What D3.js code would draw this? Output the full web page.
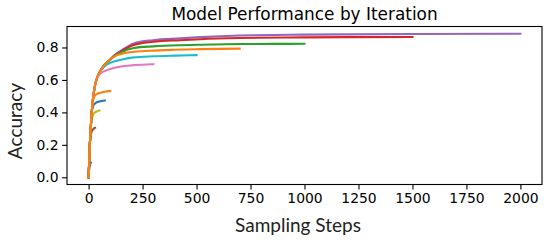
<!DOCTYPE html>
<html>
<head>
<meta charset="utf-8">
<script src="https://cdn.jsdelivr.net/npm/d3@7"></script>
<style>
  html, body { margin: 0; padding: 0; background: #fff; }
  svg { display: block; }
</style>
</head>
<body>
<svg id="chart" width="549" height="243"></svg>
<script>
// ---- data ----
const seriesNames = ["T=2000", "T=1500", "T=1000", "T=500", "T=300", "T=10", "T=30", "T=50", "T=75", "T=100", "T=700"];
const seriesColors = ["#9467bd", "#d62728", "#2ca02c", "#17becf", "#e377c2", "#1f77b4", "#8c564b", "#bcbd22", "#1f77b4", "#ff7f0e", "#ff7f0e"];

const steps2000 = [0, 2, 4, 6, 9, 12, 15, 20, 25, 32, 40, 50, 75, 100, 120, 150, 209, 300, 424, 517, 700, 1000, 1200, 1500, 2000];
const acc2000   = [0, 0.07, 0.15, 0.21, 0.28, 0.35, 0.41, 0.48, 0.53, 0.58, 0.615, 0.645, 0.695, 0.725, 0.752, 0.78, 0.825, 0.845, 0.856, 0.864, 0.874, 0.879, 0.881, 0.883, 0.885];

const steps1500 = [0, 2, 4, 6, 9, 12, 15, 20, 25, 32, 40, 50, 75, 100, 120, 150, 209, 300, 424, 517, 700, 1000, 1200, 1500];
const acc1500   = [0, 0.07, 0.15, 0.21, 0.28, 0.35, 0.41, 0.48, 0.53, 0.58, 0.615, 0.645, 0.695, 0.725, 0.75, 0.775, 0.815, 0.835, 0.845, 0.851, 0.858, 0.862, 0.864, 0.865];

const steps1000 = [0, 2, 4, 6, 9, 12, 15, 20, 25, 32, 40, 50, 75, 100, 120, 150, 209, 300, 424, 517, 700, 850, 1000];
const acc1000   = [0, 0.07, 0.15, 0.21, 0.28, 0.35, 0.41, 0.48, 0.53, 0.58, 0.615, 0.645, 0.695, 0.725, 0.748, 0.77, 0.797, 0.807, 0.814, 0.817, 0.821, 0.822, 0.823];

const steps700 = [0, 2, 4, 6, 9, 12, 15, 20, 25, 32, 40, 50, 75, 100, 120, 150, 200, 286, 400, 517, 700];
const acc700   = [0, 0.07, 0.15, 0.21, 0.28, 0.35, 0.41, 0.48, 0.53, 0.58, 0.615, 0.645, 0.695, 0.725, 0.745, 0.76, 0.772, 0.78, 0.786, 0.79, 0.793];

const steps500 = [0, 2, 4, 6, 9, 12, 15, 20, 25, 32, 40, 50, 75, 100, 150, 209, 300, 400, 500];
const acc500   = [0, 0.07, 0.15, 0.21, 0.28, 0.35, 0.41, 0.48, 0.53, 0.58, 0.615, 0.645, 0.685, 0.705, 0.725, 0.739, 0.746, 0.75, 0.753];

const steps300 = [0, 2, 4, 6, 9, 12, 15, 20, 25, 32, 40, 50, 75, 100, 150, 200, 250, 300];
const acc300   = [0, 0.07, 0.15, 0.21, 0.28, 0.35, 0.41, 0.48, 0.53, 0.58, 0.612, 0.635, 0.655, 0.668, 0.683, 0.69, 0.694, 0.697];

const steps100 = [0, 2, 4, 6, 9, 12, 15, 20, 25, 35, 50, 75, 100];
const acc100   = [0, 0.07, 0.15, 0.21, 0.28, 0.35, 0.41, 0.465, 0.495, 0.51, 0.52, 0.527, 0.531];

const steps75 = [0, 2, 4, 6, 9, 12, 15, 20, 30, 45, 60, 75];
const acc75   = [0, 0.07, 0.15, 0.21, 0.28, 0.35, 0.40, 0.435, 0.455, 0.465, 0.47, 0.473];

const steps50 = [0, 2, 4, 6, 9, 12, 16, 22, 30, 40, 50];
const acc50   = [0, 0.07, 0.15, 0.21, 0.28, 0.33, 0.365, 0.39, 0.40, 0.407, 0.412];

const steps30 = [0, 2, 4, 6, 9, 12, 18, 24, 30];
const acc30   = [0, 0.07, 0.15, 0.21, 0.25, 0.27, 0.29, 0.30, 0.305];

const steps10 = [0, 2, 4, 7, 10];
const acc10   = [0, 0.04, 0.06, 0.08, 0.09];

const xTicks = [0, 250, 500, 750, 1000, 1250, 1500, 1750, 2000];
const yTicks = [0.0, 0.2, 0.4, 0.6, 0.8];

const titleText = "Model Performance by Iteration";
const xLabel = "Sampling Steps";
const yLabel = "Accuracy";

// ---- build series table ----
const seriesSteps = [steps2000, steps1500, steps1000, steps500, steps300, steps10, steps30, steps50, steps75, steps100, steps700];
const seriesAcc   = [acc2000, acc1500, acc1000, acc500, acc300, acc10, acc30, acc50, acc75, acc100, acc700];
const series = seriesNames.map((name, i) => ({
  name, color: seriesColors[i],
  points: seriesSteps[i].map((s, j) => ({ step: s, acc: seriesAcc[i][j] }))
}));

// ---- layout ----
const svg = d3.select("#chart");
const L = 67, R = 542, T = 26.5, B = 184.5;

const x = d3.scaleLinear().domain([-100, 2100]).range([L, R]);
const y = d3.scaleLinear().domain([-0.0443, 0.9293]).range([B, T]);

const line = d3.line()
  .x(d => x(d.step))
  .y(d => y(d.acc))
  .curve(d3.curveMonotoneX);

const plot = svg.append("g");
plot.append("clipPath").attr("id", "clip")
  .append("rect").attr("x", L).attr("y", T).attr("width", R - L).attr("height", B - T);

plot.append("g").attr("clip-path", "url(#clip)")
  .selectAll("path").data(series).join("path")
  .attr("d", d => line(d.points))
  .attr("fill", "none")
  .attr("stroke", d => d.color)
  .attr("stroke-width", 2.1)
  .attr("stroke-linecap", "square")
  .attr("stroke-linejoin", "round");

// axes
const tickFont = "'DejaVu Sans', sans-serif";
const xAxis = d3.axisBottom(x).tickValues(xTicks).tickSize(4.9).tickPadding(3.5).tickFormat(d3.format("d"));
const yAxis = d3.axisLeft(y).tickValues(yTicks).tickSize(4.9).tickPadding(3.5).tickFormat(d3.format(".1f"));

const gx = svg.append("g").attr("transform", `translate(0,${B})`).call(xAxis);
const gy = svg.append("g").attr("transform", `translate(${L},0)`).call(yAxis);
[gx, gy].forEach(g => {
  g.select(".domain").remove();
  g.selectAll(".tick line").attr("stroke", "#000").attr("stroke-width", 1.1);
  g.selectAll(".tick text").attr("fill", "#000").style("font-family", tickFont).style("font-size", "13.9px");
});

// frame
svg.append("rect").attr("x", L).attr("y", T).attr("width", R - L).attr("height", B - T)
  .attr("fill", "none").attr("stroke", "#000").attr("stroke-width", 1.1);

// title
svg.append("text").attr("x", (L + R) / 2).attr("y", 19.5)
  .attr("text-anchor", "middle")
  .style("font-family", "'DejaVu Sans', sans-serif").style("font-size", "16.9px")
  .text(titleText);

// axis labels
const labelFont = "Lato, 'Open Sans', sans-serif";
svg.append("text").attr("x", 298).attr("y", 232)
  .attr("text-anchor", "middle")
  .style("font-family", labelFont).style("font-size", "19px").attr("fill", "#222")
  .text(xLabel);

svg.append("text").attr("transform", "translate(22,121) rotate(-90)")
  .attr("text-anchor", "middle")
  .style("font-family", labelFont).style("font-size", "19px").attr("fill", "#222")
  .text(yLabel);
</script>
</body>
</html>
